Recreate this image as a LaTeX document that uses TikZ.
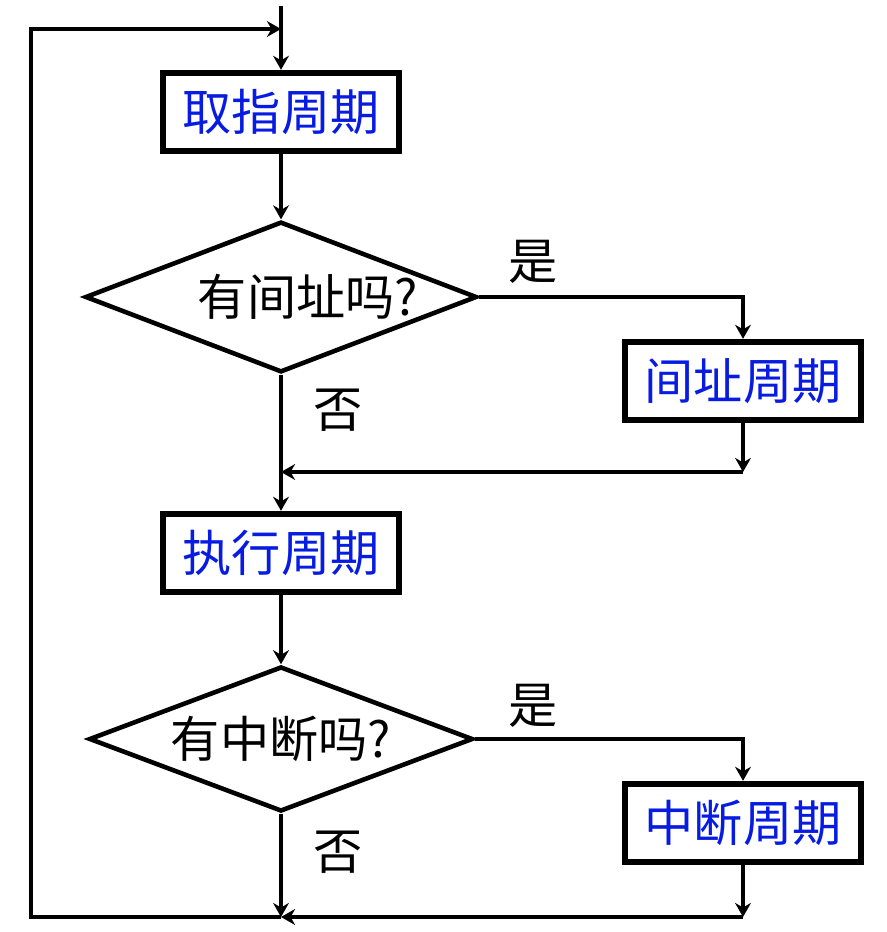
\documentclass[tikz,border=0pt]{standalone}
\usepackage{fontspec}
\newfontfamily\cjk{Noto Sans CJK SC}
\usetikzlibrary{arrows.meta,shapes.geometric}
\definecolor{cycblue}{RGB}{8,28,225}

\begin{document}
\begin{tikzpicture}[x=0.02cm,y=-0.02cm,line join=miter,
                    font={\cjk\fontsize{28}{32}\selectfont},
                    >={Stealth[length=8pt,width=9pt]},
                    flow/.style={line width=2.8pt},
                    cycle/.style={draw,line width=3.6pt,minimum width=4.72cm,
                                  minimum height=1.56cm,inner sep=0pt,text=cycblue},
                    test/.style={draw,diamond,line width=2.6pt,aspect=2.6,
                                 minimum width=7.68cm,minimum height=2.9cm,inner sep=0pt},
                    answer/.style={inner sep=0pt}]
  \useasboundingbox (0,0) rectangle (886,932);

  % Main column: fetch, indirect test, execute, interrupt test.
  \coordinate (entry) at (281,6);
  \node[cycle] (fetch) at (281,112) {取指周期};
  \node[test] (askind) at (281,297) {\hspace*{1.08cm}有间址吗?};
  \node[cycle] (exec) at (281,553) {执行周期};
  \node[test] (askint) at (281,739) {有中断吗?};

  % Side column: the optional cycles.
  \node[cycle] (indirect) at (743,381) {间址周期};
  \node[cycle] (interrupt) at (743,823) {中断周期};

  % Answers on the branches.
  \node[answer] (yes1) at (533,262) {是};
  \node[answer] (no1) at (338,410) {否};
  \node[answer] (yes2) at (533,706) {是};
  \node[answer] (no2) at (338,852) {否};

  % Join points and the loop back to the top.
  \coordinate (inddown) at (743,472);
  \coordinate (merge1) at (281,472);
  \coordinate (intdown) at (743,917);
  \coordinate (merge2) at (281,917);
  \coordinate (loopbot) at (31,917);
  \coordinate (looptop) at (31,29);
  \coordinate (backin) at (281,29);

  \draw[flow,->] (entry) -- (fetch.north);
  \draw[flow,->] (fetch) -- (askind);
  \draw[flow,->] (askind.east) -| (indirect.north);
  \draw[flow,->] (indirect) -- (inddown);
  \draw[flow,->] (inddown) -- (merge1);
  \draw[flow,->] (askind) -- (exec);
  \draw[flow,->] (exec) -- (askint);
  \draw[flow,->] (askint.east) -| (interrupt.north);
  \draw[flow,->] (interrupt) -- (intdown);
  \draw[flow,->] (intdown) -- (merge2);
  \draw[flow,->] (askint) -- (merge2);
  \draw[flow,->] (merge2) -- (loopbot) -- (looptop) -- (backin);
\end{tikzpicture}
\end{document}
